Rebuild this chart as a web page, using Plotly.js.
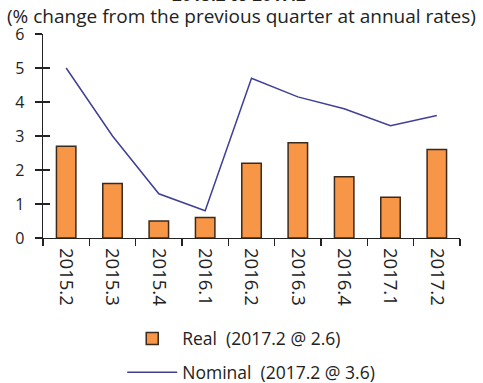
<!DOCTYPE html>
<html>
<head>
<meta charset="utf-8">
<script src="https://cdn.plot.ly/plotly-3.0.1.min.js"></script>
<style>html,body{margin:0;padding:0;background:#fff;}#chart{width:483px;height:383px;}</style>
</head>
<body>
<div id="chart"></div>
<script>
const quarters = ["2015.2","2015.3","2015.4","2016.1","2016.2","2016.3","2016.4","2017.1","2017.2"];
const realGrowth = [2.7, 1.6, 0.5, 0.6, 2.2, 2.8, 1.8, 1.2, 2.6];
const nominalGrowth = [5.0, 3.0, 1.3, 0.8, 4.7, 4.15, 3.8, 3.3, 3.6];
const yTicks = [0, 1, 2, 3, 4, 5, 6];
const realName = "Real  (2017.2 @ 2.6)";
const nominalName = "Nominal  (2017.2 @ 3.6)";
const titleText = "2015.2 to 2017.2";
const subtitleText = "(% change from the previous quarter at annual rates)";

const font = "'Open Sans', sans-serif";

const traces = [
  {
    type: "bar", x: quarters, y: realGrowth, name: realName,
    marker: {color: "#f79646", line: {color: "#3b2a1c", width: 1.5}},
    width: 0.42, legendgroup: "a"
  },
  {
    type: "scatter", mode: "lines", x: quarters, y: nominalGrowth, name: nominalName,
    line: {color: "#3f3f96", width: 1.5}, legendgroup: "b"
  },
  {
    type: "scatter", mode: "lines", x: quarters, y: nominalGrowth, yaxis: "y2",
    line: {width: 0}, hoverinfo: "skip", showlegend: false, opacity: 0
  }
];

const layout = {
  width: 483, height: 383,
  margin: {l: 43, r: 23, t: 34, b: 145, autoexpand: false},
  paper_bgcolor: "#fff", plot_bgcolor: "#fff",
  font: {family: font, size: 16, color: "#222"},
  showlegend: true,
  xaxis: {
    type: "category", tickson: "boundaries",
    ticks: "outside", ticklen: 7, tickcolor: "#222", tickwidth: 1.3,
    showline: true, linecolor: "#222", linewidth: 1.3,
    showgrid: false, zeroline: false,
    tickangle: 90, tickfont: {size: 18.5, color: "#222"}, ticklabelstandoff: 5,
    range: [-0.5, 8.5], automargin: false
  },
  yaxis: {
    range: [0, 6], tickvals: yTicks,
    ticks: "outside", ticklen: 7, tickcolor: "#222", tickwidth: 1.3,
    showline: true, linecolor: "#222", linewidth: 1.3,
    showgrid: false, zeroline: false,
    tickfont: {size: 16, color: "#222"}, ticklabelstandoff: 7, automargin: false
  },
  yaxis2: {
    overlaying: "y", range: [0, 6], tickvals: yTicks,
    ticks: "inside", ticklen: 7, tickcolor: "#222", tickwidth: 1.3,
    showticklabels: false, showline: false, showgrid: false, zeroline: false
  },
  legend: {
    x: 0.19, xanchor: "left", y: 0.163, yref: "container", yanchor: "top",
    orientation: "v", traceorder: "grouped", tracegroupgap: 8, itemwidth: 50,
    font: {size: 17.5, color: "#222"}, bgcolor: "rgba(0,0,0,0)"
  },
  annotations: [
    {text: "<b>" + titleText + "</b>", xref: "paper", yref: "paper", x: 0.47, y: 1.0, yshift: 26,
     xanchor: "center", yanchor: "bottom", showarrow: false, font: {size: 17, color: "#222"}},
    {text: subtitleText, xref: "paper", yref: "paper", x: 0.475, y: 1.0, yshift: 3,
     xanchor: "center", yanchor: "bottom", showarrow: false, font: {size: 19, color: "#222"}}
  ]
};

Plotly.newPlot("chart", traces, layout, {displayModeBar: false, staticPlot: true});
</script>
</body>
</html>
